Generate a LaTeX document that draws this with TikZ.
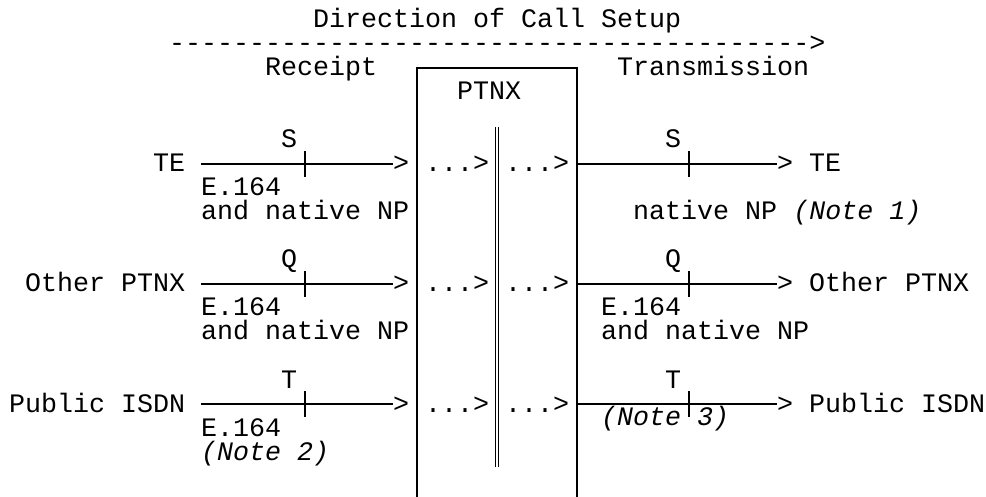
\documentclass[tikz,border=0pt]{standalone}
\usepackage{fontspec}
\newfontfamily\ascii{Liberation Mono}[Ligatures=TeXOff]
\usetikzlibrary{positioning}
\newcommand{\cell}[2]{({9+16*(#1)},{28+24*(#2)})}

\begin{document}
\begin{tikzpicture}[
    x=1pt, y=-1pt,
    chars/.style = {anchor=base west, inner sep=0, font=\fontsize{26.67}{32}\selectfont\ascii},
    notetext/.style = {chars, font=\fontsize{26.67}{32}\selectfont\ascii\itshape},
    wire/.style = {line width=1.4pt}
  ]
  \useasboundingbox (0,0) rectangle (986,497);

  \node[chars] (title) at \cell{19}{0} {Direction of Call Setup};
  \node[chars] (direction) at \cell{10}{1} {---------------------------------------->};
  \node[chars] (receipt) at \cell{16}{2} {Receipt};
  \node[chars] (transmission) at \cell{38}{2} {Transmission};
  \node[chars] (ptnx) at \cell{28}{3} {PTNX};

  \coordinate (box_nw) at (417,68);
  \coordinate (box_ne) at (577,68);
  \coordinate (box_sw) at (417,497);
  \coordinate (box_se) at (577,497);
  \draw[wire] (box_sw) -- (box_nw) -- (box_ne) -- (box_se);

  \coordinate (bar_top) at (497,127);
  \coordinate (bar_bot) at (497,467);
  \draw[line width=1.2pt, double, double distance=2.4pt] (bar_top) -- (bar_bot);

  \node[chars] (te_in) at \cell{9}{6} {TE};
  \node[chars] (s_in) at \cell{17}{5} {S};
  \node[chars] (s_in_tip) at \cell{24}{6} {>};
  \node[chars] (s_dots_1) at \cell{26}{6} {...>};
  \node[chars] (s_dots_2) at \cell{31}{6} {...>};
  \node[chars] (s_out) at \cell{41}{5} {S};
  \node[chars] (s_out_tip) at \cell{48}{6} {>};
  \node[chars] (te_out) at \cell{50}{6} {TE};
  \node[chars] (s_in_e164) at \cell{12}{7} {E.164};
  \node[chars] (s_in_np) at \cell{12}{8} {and native NP};
  \node[chars] (s_out_np) at \cell{39}{8} {native NP {\itshape(Note 1)}};

  \node[chars] (ptnx_in) at \cell{1}{11} {Other PTNX};
  \node[chars] (q_in) at \cell{17}{10} {Q};
  \node[chars] (q_in_tip) at \cell{24}{11} {>};
  \node[chars] (q_dots_1) at \cell{26}{11} {...>};
  \node[chars] (q_dots_2) at \cell{31}{11} {...>};
  \node[chars] (q_out) at \cell{41}{10} {Q};
  \node[chars] (q_out_tip) at \cell{48}{11} {>};
  \node[chars] (ptnx_out) at \cell{50}{11} {Other PTNX};
  \node[chars] (q_in_e164) at \cell{12}{12} {E.164};
  \node[chars] (q_in_np) at \cell{12}{13} {and native NP};
  \node[chars] (q_out_e164) at \cell{37}{12} {E.164};
  \node[chars] (q_out_np) at \cell{37}{13} {and native NP};

  \node[chars] (isdn_in) at \cell{0}{16} {Public ISDN};
  \node[chars] (t_in) at \cell{17}{15} {T};
  \node[chars] (t_in_tip) at \cell{24}{16} {>};
  \node[chars] (t_dots_1) at \cell{26}{16} {...>};
  \node[chars] (t_dots_2) at \cell{31}{16} {...>};
  \node[chars] (t_out) at \cell{41}{15} {T};
  \node[chars] (t_out_tip) at \cell{48}{16} {>};
  \node[chars] (isdn_out) at \cell{50}{16} {Public ISDN};
  \node[chars] (t_in_e164) at \cell{12}{17} {E.164};
  \node[notetext] (note_2) at \cell{12}{18} {(Note 2)};
  \node[notetext] (note_3) at (601,425) {(Note 3)};

  \coordinate (s_line) at (201,164);
  \coordinate (q_line) at (201,284);
  \coordinate (t_line) at (201,404);
  \coordinate (s_ref_in) at (305,164);
  \coordinate (q_ref_in) at (305,284);
  \coordinate (t_ref_in) at (305,404);
  \coordinate (s_ref_out) at (689,164);
  \coordinate (q_ref_out) at (689,284);
  \coordinate (t_ref_out) at (689,404);

  \draw[wire] (s_line) -- (s_line -| s_in_tip.west);
  \draw[wire] (q_line) -- (q_line -| q_in_tip.west);
  \draw[wire] (t_line) -- (t_line -| t_in_tip.west);
  \draw[wire] (s_line -| box_ne) -- (s_line -| s_out_tip.west);
  \draw[wire] (q_line -| box_ne) -- (q_line -| q_out_tip.west);
  \draw[wire] (t_line -| box_ne) -- (t_line -| t_out_tip.west);

  \draw[wire] (s_ref_in) ++(0,-13) -- ++(0,26);
  \draw[wire] (q_ref_in) ++(0,-13) -- ++(0,26);
  \draw[wire] (t_ref_in) ++(0,-13) -- ++(0,26);
  \draw[wire] (s_ref_out) ++(0,-13) -- ++(0,26);
  \draw[wire] (q_ref_out) ++(0,-13) -- ++(0,26);
  \draw[wire] (t_ref_out) ++(0,-13) -- ++(0,26);
\end{tikzpicture}
\end{document}
